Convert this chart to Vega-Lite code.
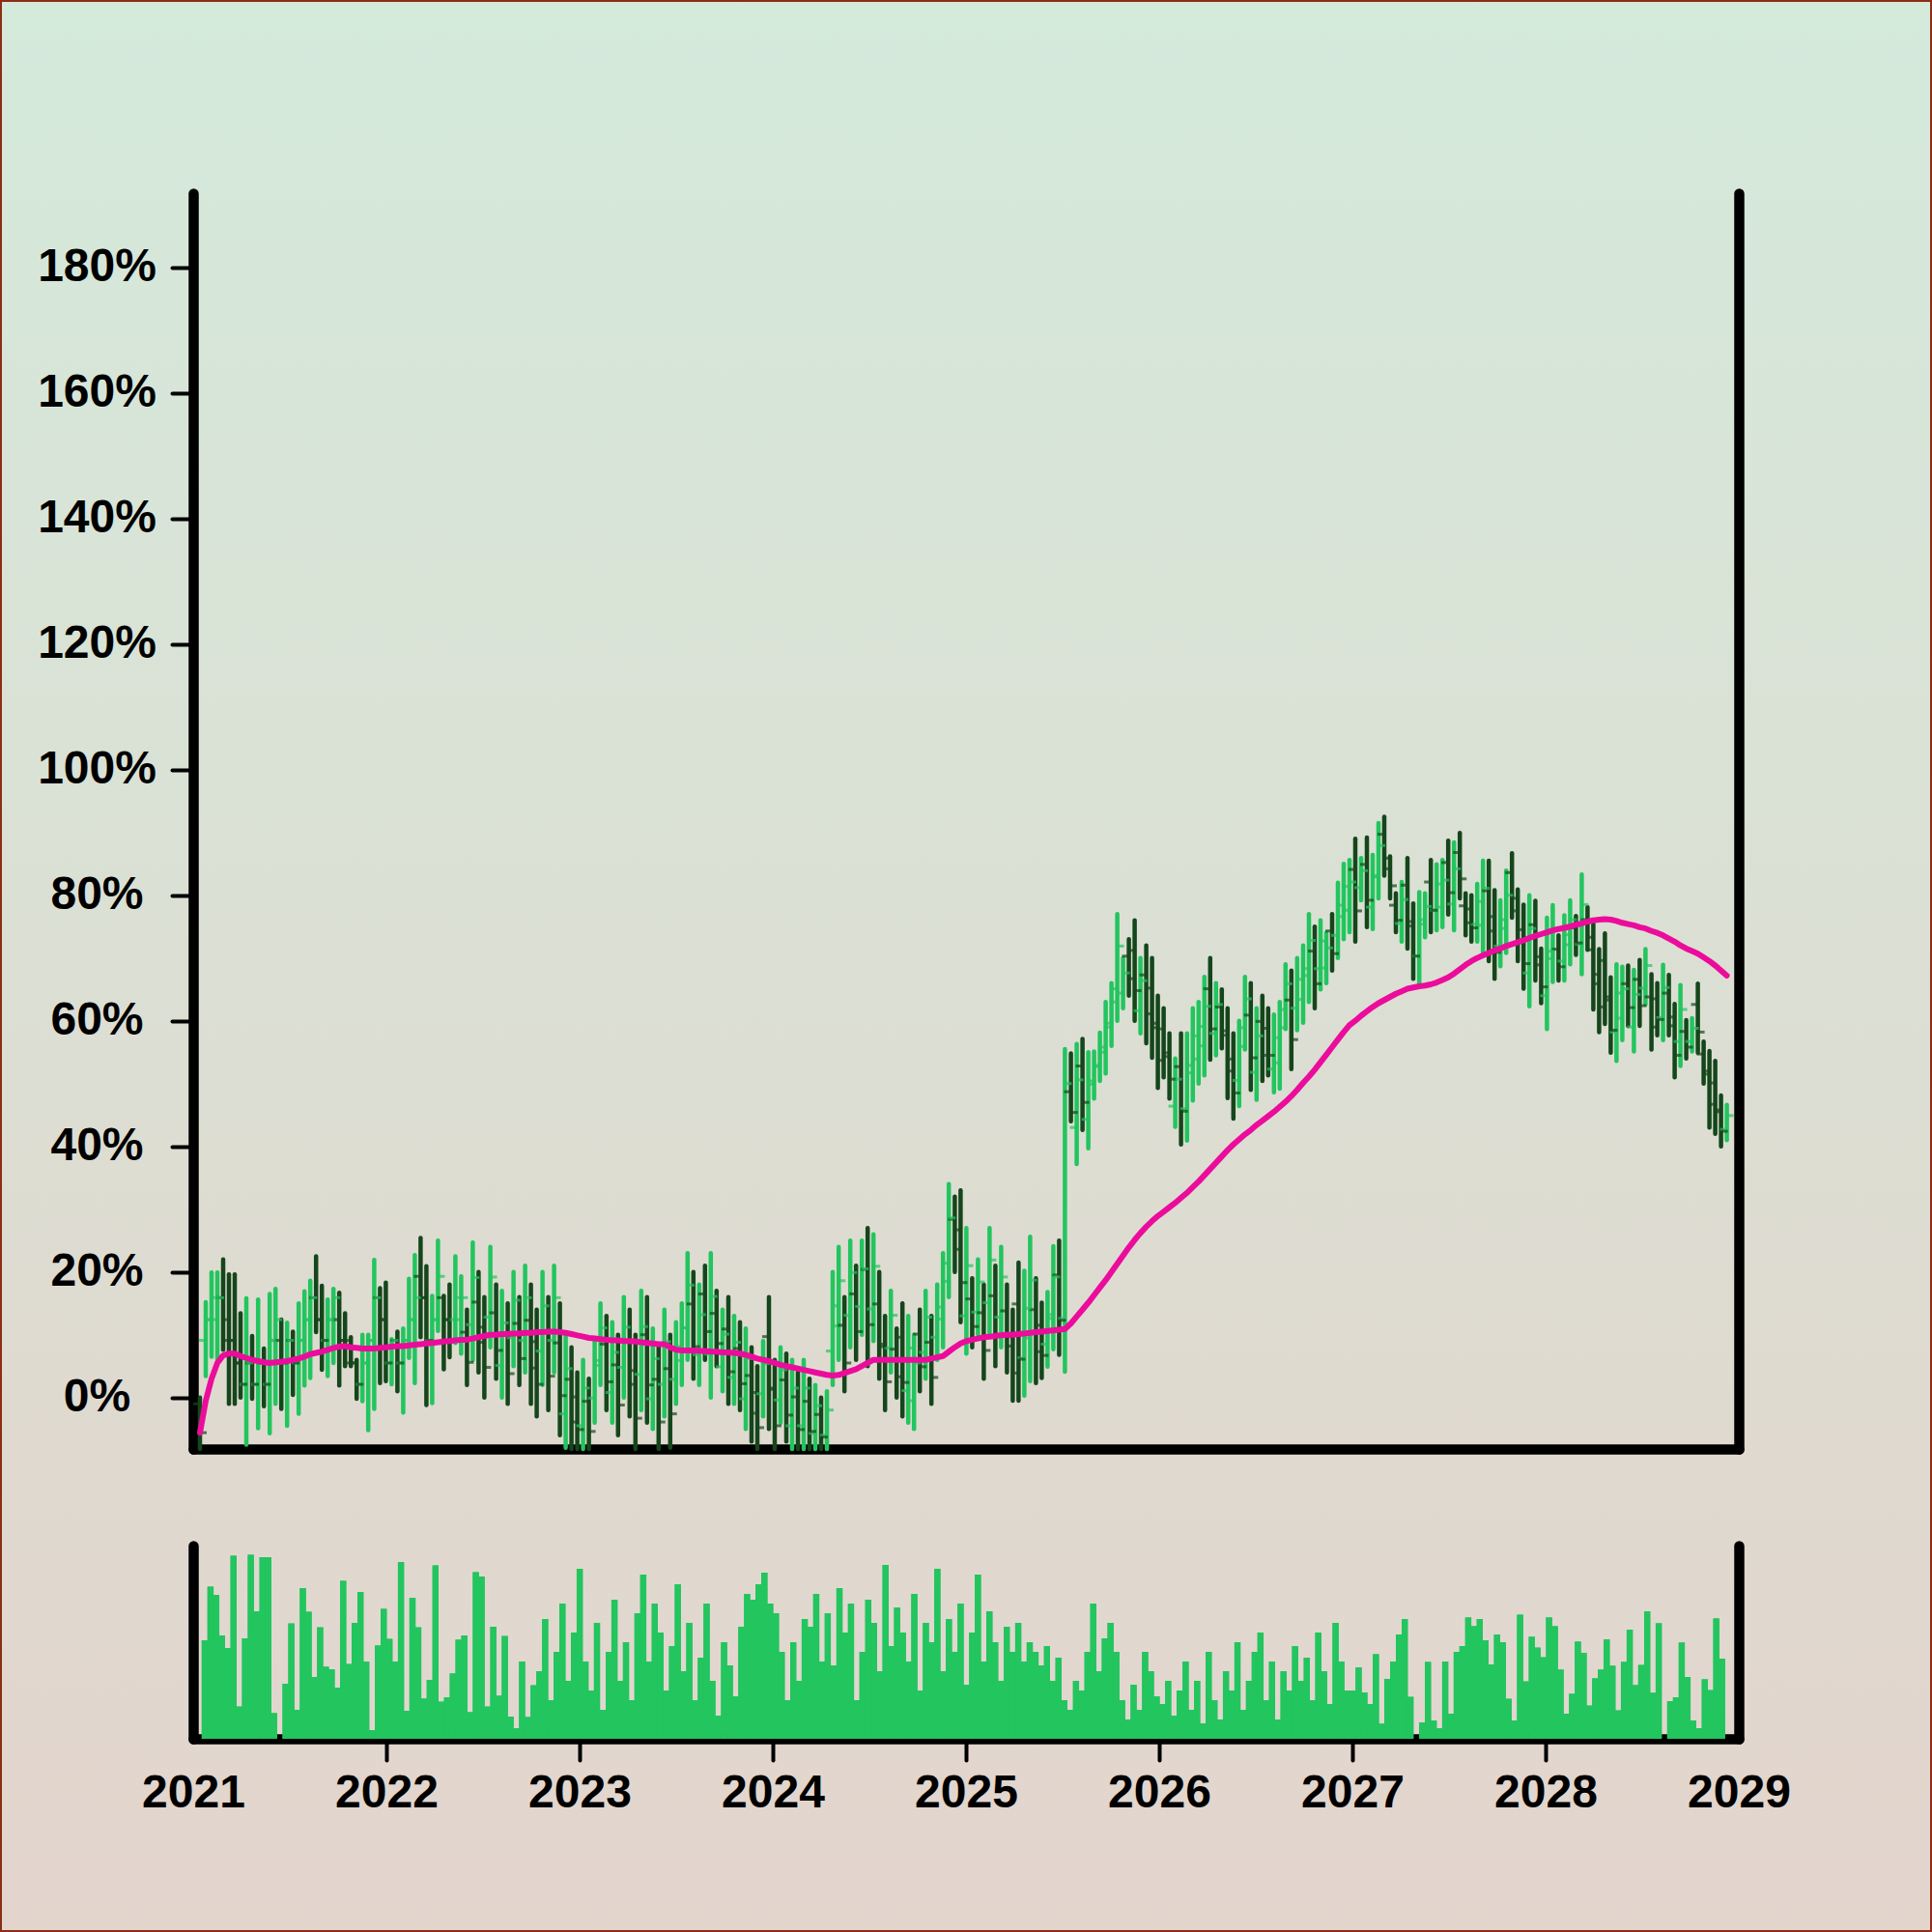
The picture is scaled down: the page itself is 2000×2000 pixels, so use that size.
{
"$schema": "https://vega.github.io/schema/vega-lite/v6.json",
"width": 2000, "height": 2000, "padding": 0,
"autosize": {"type": "none"},
"background": "#dbdfd3",
"config": {
 "view": {"fill": {"gradient": "linear", "x1": 0, "y1": 0, "x2": 0, "y2": 1, "stops": [{"offset": 0, "color": "#d4eadb"}, {"offset": 1, "color": "#e3d4cc"}]}, "stroke": "#8b2e16", "strokeWidth": 4},
 "axis": {"domainColor": "black", "domainWidth": 10.5, "domainCap": "round", "tickColor": "black", "tickWidth": 4, "tickSize": 22, "tickCap": "round", "labelFont": "Liberation Sans", "labelFontWeight": "bold", "labelFontSize": 48, "labelColor": "black", "grid": false, "title": null, "zindex": 1}
},
"data": {"values": [
{"t":2021.035,"o":-1,"h":0,"l":-9,"c":-5.6,"v":51,"m":-5.6},
{"t":2021.065,"o":9.1,"h":15.2,"l":3.4,"c":12.4,"v":78.7,"m":-0.5},
{"t":2021.095,"o":12.4,"h":19.9,"l":6.5,"c":15.9,"v":74.5,"m":3.0},
{"t":2021.125,"o":12.4,"h":19.9,"l":6.0,"c":15.9,"v":53.5,"m":5.5},
{"t":2021.155,"o":15.9,"h":22.0,"l":7.6,"c":9.1,"v":47,"m":6.7},
{"t":2021.185,"o":12.4,"h":19.6,"l":-1.0,"c":9.1,"v":94.7,"m":7.0},
{"t":2021.215,"o":9.1,"h":19.6,"l":-1.0,"c":5.5,"v":16.7,"m":7.0},
{"t":2021.245,"o":5.5,"h":13.4,"l":0.0,"c":2.1,"v":52,"m":6.6},
{"t":2021.275,"o":2.1,"h":15.8,"l":-7.5,"c":5.5,"v":95.3,"m":6.3},
{"t":2021.305,"o":5.5,"h":9.8,"l":-0.2,"c":2.1,"v":66,"m":6.0},
{"t":2021.336,"o":2.1,"h":15.6,"l":-4.9,"c":5.5,"v":94,"m":5.8},
{"t":2021.366,"o":5.5,"h":7.8,"l":-1.4,"c":2.1,"v":94,"m":5.6},
{"t":2021.396,"o":2.1,"h":16.5,"l":-5.7,"c":9.1,"v":13.3,"m":5.5},
{"t":2021.426,"o":9.1,"h":17.3,"l":-1.0,"c":12.4,"v":0,"m":5.6},
{"t":2021.456,"o":9.1,"h":12.4,"l":-1.8,"c":5.5,"v":28.5,"m":5.7},
{"t":2021.486,"o":5.5,"h":11.9,"l":-4.5,"c":9.1,"v":59.7,"m":5.8},
{"t":2021.516,"o":9.1,"h":10.5,"l":0.4,"c":5.5,"v":15,"m":6.0},
{"t":2021.546,"o":5.5,"h":15.0,"l":-2.6,"c":9.1,"v":78,"m":6.2},
{"t":2021.576,"o":9.1,"h":16.9,"l":1.9,"c":12.4,"v":65.7,"m":6.5},
{"t":2021.606,"o":12.4,"h":18.6,"l":3.1,"c":15.9,"v":32,"m":6.9},
{"t":2021.636,"o":15.9,"h":22.5,"l":10.4,"c":12.4,"v":57.7,"m":7.1},
{"t":2021.666,"o":12.4,"h":17.8,"l":4.4,"c":9.1,"v":37.3,"m":7.3},
{"t":2021.696,"o":9.1,"h":15.6,"l":3.4,"c":12.4,"v":36,"m":7.6},
{"t":2021.726,"o":12.4,"h":17.3,"l":5.5,"c":15.9,"v":26.5,"m":7.9},
{"t":2021.756,"o":12.4,"h":16.7,"l":1.9,"c":9.1,"v":81.7,"m":8.1},
{"t":2021.786,"o":9.1,"h":13.4,"l":5.0,"c":5.5,"v":38.7,"m":8.2},
{"t":2021.816,"o":9.1,"h":9.6,"l":5.0,"c":5.5,"v":60,"m":8.0},
{"t":2021.846,"o":5.5,"h":6.0,"l":-0.2,"c":2.1,"v":76,"m":7.9},
{"t":2021.876,"o":2.1,"h":10.0,"l":-0.6,"c":5.5,"v":40,"m":7.8},
{"t":2021.906,"o":5.5,"h":10.0,"l":-5.2,"c":9.1,"v":4.5,"m":7.8},
{"t":2021.937,"o":9.1,"h":21.9,"l":-1.8,"c":15.9,"v":48.3,"m":7.8},
{"t":2021.967,"o":15.9,"h":17.4,"l":2.3,"c":12.4,"v":67.3,"m":7.9},
{"t":2021.997,"o":12.4,"h":18.3,"l":2.6,"c":5.5,"v":51.7,"m":8.0},
{"t":2022.027,"o":5.5,"h":9.3,"l":2.1,"c":9.1,"v":40,"m":8.1},
{"t":2022.057,"o":9.1,"h":10.5,"l":1.0,"c":5.5,"v":91.5,"m":8.2},
{"t":2022.087,"o":5.5,"h":11.0,"l":-2.4,"c":9.1,"v":14.5,"m":8.2},
{"t":2022.117,"o":9.1,"h":18.9,"l":6.3,"c":12.4,"v":73,"m":8.3},
{"t":2022.147,"o":12.4,"h":22.7,"l":2.3,"c":15.9,"v":57.7,"m":8.4},
{"t":2022.177,"o":19.3,"h":25.4,"l":9.6,"c":15.9,"v":20.8,"m":8.5},
{"t":2022.207,"o":15.9,"h":20.9,"l":-1.2,"c":9.1,"v":30.5,"m":8.6},
{"t":2022.237,"o":9.1,"h":16.2,"l":-0.9,"c":12.4,"v":89.8,"m":8.7},
{"t":2022.267,"o":12.4,"h":25.0,"l":10.6,"c":19.3,"v":19.2,"m":8.8},
{"t":2022.297,"o":15.9,"h":16.2,"l":4.5,"c":12.4,"v":21.5,"m":8.9},
{"t":2022.327,"o":12.4,"h":18.0,"l":6.4,"c":9.1,"v":33.8,"m":9.0},
{"t":2022.357,"o":12.4,"h":22.5,"l":8.7,"c":15.9,"v":51.3,"m":9.1},
{"t":2022.387,"o":12.4,"h":19.3,"l":7.0,"c":15.9,"v":53.5,"m":9.2},
{"t":2022.417,"o":10.4,"h":14,"l":2,"c":5.6,"v":13.8,"m":9.2},
{"t":2022.447,"o":11.6,"h":24.7,"l":6,"c":19.1,"v":86.3,"m":9.4},
{"t":2022.477,"o":15.2,"h":20,"l":4,"c":8.8,"v":84,"m":9.6},
{"t":2022.507,"o":11.2,"h":16,"l":0,"c":4.8,"v":16.7,"m":9.8},
{"t":2022.538,"o":12.8,"h":24,"l":8,"c":19.2,"v":58,"m":10.0},
{"t":2022.568,"o":13.5,"h":18,"l":3,"c":7.5,"v":22.3,"m":10.0},
{"t":2022.598,"o":5.1,"h":17,"l":0,"c":11.9,"v":53.2,"m":10.1},
{"t":2022.628,"o":10.2,"h":15,"l":-1,"c":3.8,"v":11.5,"m":10.1},
{"t":2022.658,"o":9.5,"h":20,"l":5,"c":15.5,"v":5.5,"m":10.2},
{"t":2022.688,"o":11.8,"h":16,"l":2,"c":6.2,"v":40,"m":10.2},
{"t":2022.718,"o":9.1,"h":21,"l":4,"c":15.9,"v":11.3,"m":10.3},
{"t":2022.748,"o":12.3,"h":18,"l":-1,"c":4.7,"v":27.7,"m":10.3},
{"t":2022.778,"o":8.9,"h":14,"l":-3,"c":2.1,"v":35,"m":10.4},
{"t":2022.808,"o":7.4,"h":20,"l":2,"c":14.6,"v":62,"m":10.4},
{"t":2022.838,"o":10.6,"h":16,"l":-2,"c":3.4,"v":20,"m":10.5},
{"t":2022.868,"o":9.1,"h":21,"l":4,"c":15.9,"v":45,"m":10.5},
{"t":2022.898,"o":8.7,"h":15,"l":-6,"c":0.3,"v":70,"m":10.4},
{"t":2022.928,"o":-2.6,"h":10,"l":-8,"c":4.6,"v":30,"m":10.3},
{"t":2022.958,"o":2.9,"h":8,"l":-9,"c":-3.9,"v":55,"m":10.1},
{"t":2022.988,"o":0.1,"h":4,"l":-9,"c":-5.1,"v":88,"m":9.9},
{"t":2023.018,"o":-4.5,"h":6,"l":-9,"c":1.5,"v":40,"m":9.7},
{"t":2023.048,"o":-0.6,"h":3,"l":-9,"c":-5.4,"v":25,"m":9.5},
{"t":2023.078,"o":-0.1,"h":9,"l":-4,"c":5.1,"v":60,"m":9.4},
{"t":2023.108,"o":5.9,"h":15,"l":2,"c":11.1,"v":15,"m":9.3},
{"t":2023.139,"o":8.5,"h":13,"l":-2,"c":2.5,"v":45,"m":9.2},
{"t":2023.169,"o":0.8,"h":12,"l":-4,"c":7.2,"v":72,"m":9.1},
{"t":2023.199,"o":5.2,"h":10,"l":-6,"c":-1.2,"v":30,"m":9.1},
{"t":2023.229,"o":4.8,"h":16,"l":0,"c":11.2,"v":50,"m":9.0},
{"t":2023.259,"o":8.9,"h":14,"l":-3,"c":2.1,"v":20,"m":9.0},
{"t":2023.289,"o":4.3,"h":10,"l":-9,"c":-3.3,"v":65,"m":8.9},
{"t":2023.319,"o":3.7,"h":17,"l":-2,"c":11.3,"v":85,"m":8.8},
{"t":2023.349,"o":10,"h":16,"l":-4,"c":2,"v":40,"m":8.7},
{"t":2023.379,"o":-0.2,"h":11,"l":-5,"c":6.2,"v":70,"m":8.6},
{"t":2023.409,"o":2.9,"h":8,"l":-9,"c":-3.9,"v":55,"m":8.5},
{"t":2023.439,"o":2.1,"h":14,"l":-3,"c":8.9,"v":25,"m":8.5},
{"t":2023.469,"o":4.6,"h":10,"l":-8,"c":-2.6,"v":48,"m":8.0},
{"t":2023.499,"o":2.9,"h":12,"l":-1,"c":8.1,"v":80,"m":7.6},
{"t":2023.529,"o":5.9,"h":15,"l":2,"c":11.1,"v":35,"m":7.5},
{"t":2023.559,"o":11.1,"h":23,"l":6,"c":17.9,"v":60,"m":7.5},
{"t":2023.589,"o":14.9,"h":20,"l":3,"c":8.1,"v":20,"m":7.5},
{"t":2023.619,"o":6.8,"h":18,"l":2,"c":13.2,"v":42,"m":7.4},
{"t":2023.649,"o":16.5,"h":21,"l":6,"c":10.5,"v":70,"m":7.4},
{"t":2023.679,"o":6.9,"h":23,"l":0,"c":16.1,"v":30,"m":7.3},
{"t":2023.709,"o":13.4,"h":17,"l":5,"c":8.6,"v":12,"m":7.3},
{"t":2023.740,"o":4.9,"h":14,"l":1,"c":10.1,"v":50,"m":7.2},
{"t":2023.770,"o":10.9,"h":16,"l":-1,"c":4.1,"v":38,"m":7.2},
{"t":2023.800,"o":3.2,"h":13,"l":-1,"c":8.8,"v":22,"m":7.1},
{"t":2023.830,"o":7.8,"h":12,"l":-2,"c":2.2,"v":58,"m":7.0},
{"t":2023.860,"o":-0.2,"h":11,"l":-5,"c":6.2,"v":75,"m":6.8},
{"t":2023.890,"o":3.5,"h":8,"l":-7,"c":-2.5,"v":72,"m":6.5},
{"t":2023.920,"o":0.8,"h":5,"l":-9,"c":-4.8,"v":80,"m":6.2},
{"t":2023.950,"o":0.6,"h":9,"l":-3,"c":5.4,"v":86,"m":6.0},
{"t":2023.980,"o":9.7,"h":16,"l":-5,"c":1.3,"v":70,"m":5.8},
{"t":2024.010,"o":1.5,"h":6,"l":-9,"c":-4.5,"v":65,"m":5.5},
{"t":2024.040,"o":-0.4,"h":8,"l":-4,"c":4.4,"v":45,"m":5.2},
{"t":2024.070,"o":2.8,"h":7,"l":-7,"c":-2.8,"v":20,"m":5.0},
{"t":2024.100,"o":-4.5,"h":6,"l":-9,"c":1.5,"v":50,"m":4.8},
{"t":2024.130,"o":0.1,"h":4,"l":-9,"c":-5.1,"v":30,"m":4.6},
{"t":2024.160,"o":-4.5,"h":6,"l":-9,"c":1.5,"v":62,"m":4.4},
{"t":2024.190,"o":-0.6,"h":3,"l":-9,"c":-5.4,"v":58,"m":4.2},
{"t":2024.220,"o":-5.7,"h":2,"l":-9,"c":-1.3,"v":75,"m":4.0},
{"t":2024.250,"o":-2.7,"h":0,"l":-9,"c":-6.3,"v":40,"m":3.8},
{"t":2024.280,"o":-6,"h":1,"l":-9,"c":-2,"v":65,"m":3.6},
{"t":2024.310,"o":7.4,"h":20,"l":2,"c":14.6,"v":38,"m":3.5},
{"t":2024.341,"o":11.4,"h":24,"l":6,"c":18.6,"v":78,"m":3.6},
{"t":2024.371,"o":11.5,"h":16,"l":1,"c":5.5,"v":55,"m":3.9},
{"t":2024.401,"o":13.1,"h":25,"l":8,"c":19.9,"v":70,"m":4.2},
{"t":2024.431,"o":16.5,"h":21,"l":6,"c":10.5,"v":20,"m":4.5},
{"t":2024.461,"o":14.5,"h":25,"l":10,"c":20.5,"v":45,"m":5.0},
{"t":2024.491,"o":20.4,"h":27,"l":5,"c":11.6,"v":72,"m":5.5},
{"t":2024.521,"o":14.1,"h":26,"l":9,"c":20.9,"v":60,"m":6.0},
{"t":2024.551,"o":14.9,"h":20,"l":3,"c":8.1,"v":35,"m":6.0},
{"t":2024.581,"o":8.5,"h":13,"l":-2,"c":2.5,"v":90,"m":6.0},
{"t":2024.611,"o":7.9,"h":17,"l":4,"c":13.1,"v":48,"m":6.0},
{"t":2024.641,"o":7.7,"h":11,"l":0,"c":3.3,"v":68,"m":6.0},
{"t":2024.671,"o":9.6,"h":15,"l":-3,"c":2.4,"v":55,"m":6.0},
{"t":2024.701,"o":1.1,"h":13,"l":-4,"c":7.9,"v":40,"m":6.0},
{"t":2024.731,"o":-0.5,"h":10,"l":-5,"c":5.5,"v":75,"m":6.0},
{"t":2024.761,"o":10.1,"h":14,"l":1,"c":4.9,"v":25,"m":6.0},
{"t":2024.791,"o":7.2,"h":17,"l":3,"c":12.8,"v":60,"m":6.0},
{"t":2024.821,"o":8.8,"h":13,"l":-1,"c":3.2,"v":50,"m":6.2},
{"t":2024.851,"o":9.6,"h":18,"l":6,"c":14.4,"v":88,"m":6.4},
{"t":2024.881,"o":12.5,"h":23,"l":8,"c":18.5,"v":35,"m":6.6},
{"t":2024.911,"o":21.4,"h":34,"l":16,"c":28.6,"v":62,"m":7.3},
{"t":2024.942,"o":28.4,"h":32,"l":20,"c":23.6,"v":45,"m":8.0},
{"t":2024.972,"o":26.7,"h":33,"l":12,"c":18.3,"v":70,"m":8.6},
{"t":2025.002,"o":13,"h":27,"l":7,"c":21,"v":28,"m":9.0},
{"t":2025.032,"o":15.7,"h":19,"l":8,"c":11.3,"v":55,"m":9.2},
{"t":2025.062,"o":13.6,"h":22,"l":10,"c":18.4,"v":85,"m":9.4},
{"t":2025.092,"o":13.5,"h":18,"l":3,"c":7.5,"v":40,"m":9.6},
{"t":2025.122,"o":15.1,"h":27,"l":10,"c":21.9,"v":66,"m":9.7},
{"t":2025.152,"o":16.2,"h":21,"l":5,"c":9.8,"v":50,"m":9.8},
{"t":2025.182,"o":12.8,"h":24,"l":8,"c":19.2,"v":30,"m":9.9},
{"t":2025.212,"o":13.8,"h":18,"l":4,"c":8.2,"v":58,"m":10.0},
{"t":2025.242,"o":9.7,"h":14,"l":-0.5,"c":3.9,"v":45,"m":10.0},
{"t":2025.272,"o":14.9,"h":21.5,"l":-0.5,"c":6.1,"v":60,"m":10.1},
{"t":2025.302,"o":6.3,"h":20.2,"l":0.3,"c":14.2,"v":40,"m":10.2},
{"t":2025.332,"o":9.5,"h":25.6,"l":2.6,"c":18.7,"v":50,"m":10.3},
{"t":2025.362,"o":14,"h":19,"l":2.3,"c":7.3,"v":45,"m":10.4},
{"t":2025.392,"o":11.5,"h":15.1,"l":3.1,"c":6.7,"v":38,"m":10.5},
{"t":2025.422,"o":8.5,"h":16.8,"l":4.9,"c":13.2,"v":48,"m":10.6},
{"t":2025.452,"o":12.6,"h":24.1,"l":7.7,"c":19.2,"v":30,"m":10.7},
{"t":2025.482,"o":19.5,"h":25,"l":6.8,"c":12.3,"v":42,"m":10.8},
{"t":2025.512,"o":12.6,"h":55.5,"l":4.1,"c":50,"v":20,"m":10.9},
{"t":2025.543,"o":48.7,"h":54.8,"l":44,"c":45.4,"v":15,"m":11.8},
{"t":2025.573,"o":43,"h":56.3,"l":37.2,"c":50.6,"v":30,"m":12.9},
{"t":2025.603,"o":52.8,"h":57.1,"l":42.6,"c":47,"v":25,"m":14.0},
{"t":2025.633,"o":44.3,"h":55,"l":39.7,"c":50.4,"v":45,"m":15.1},
{"t":2025.663,"o":49.9,"h":55.1,"l":47.6,"c":52.9,"v":70,"m":16.3},
{"t":2025.693,"o":52.7,"h":58.1,"l":50.4,"c":55.8,"v":35,"m":17.5},
{"t":2025.723,"o":55,"h":63,"l":51.6,"c":59.6,"v":52,"m":18.7},
{"t":2025.753,"o":59,"h":66,"l":56,"c":63,"v":60,"m":20.0},
{"t":2025.783,"o":65.1,"h":77,"l":60,"c":71.9,"v":45,"m":21.3},
{"t":2025.813,"o":64.4,"h":70,"l":62,"c":67.6,"v":20,"m":22.6},
{"t":2025.843,"o":70.3,"h":73,"l":64,"c":66.7,"v":10,"m":23.9},
{"t":2025.873,"o":71.2,"h":76,"l":60,"c":64.8,"v":28,"m":25.1},
{"t":2025.903,"o":61.6,"h":70,"l":58,"c":66.4,"v":15,"m":26.2},
{"t":2025.933,"o":67.3,"h":72,"l":56.4,"c":61.1,"v":45,"m":27.2},
{"t":2025.963,"o":65.2,"h":70,"l":54.1,"c":58.9,"v":35,"m":28.1},
{"t":2025.993,"o":59.6,"h":64,"l":49.3,"c":53.7,"v":22,"m":28.9},
{"t":2026.023,"o":58.7,"h":62,"l":51,"c":54.3,"v":18,"m":29.6},
{"t":2026.053,"o":54.9,"h":58,"l":47.6,"c":50.7,"v":30,"m":30.3},
{"t":2026.083,"o":46.4,"h":54,"l":43.1,"c":50.7,"v":12,"m":31.0},
{"t":2026.113,"o":52.7,"h":58,"l":40.3,"c":45.6,"v":25,"m":31.8},
{"t":2026.144,"o":46,"h":58,"l":40.9,"c":52.9,"v":40,"m":32.6},
{"t":2026.174,"o":51.7,"h":62,"l":47.3,"c":57.6,"v":15,"m":33.5},
{"t":2026.204,"o":53.9,"h":63,"l":50,"c":59.1,"v":30,"m":34.4},
{"t":2026.234,"o":56,"h":67,"l":51.3,"c":62.3,"v":8,"m":35.4},
{"t":2026.264,"o":65.1,"h":70,"l":53.8,"c":58.7,"v":45,"m":36.4},
{"t":2026.294,"o":58,"h":66,"l":54.5,"c":62.6,"v":20,"m":37.4},
{"t":2026.324,"o":62.2,"h":65,"l":55.6,"c":58.4,"v":10,"m":38.4},
{"t":2026.354,"o":57.7,"h":62,"l":47.7,"c":52,"v":35,"m":39.4},
{"t":2026.384,"o":53.9,"h":58,"l":44.4,"c":48.5,"v":25,"m":40.3},
{"t":2026.414,"o":50.5,"h":60,"l":46.4,"c":55.9,"v":50,"m":41.1},
{"t":2026.444,"o":58.9,"h":67,"l":55.4,"c":63.5,"v":15,"m":41.9},
{"t":2026.474,"o":60.9,"h":66,"l":49,"c":54.1,"v":30,"m":42.6},
{"t":2026.504,"o":51.8,"h":62,"l":47.4,"c":57.6,"v":45,"m":43.4},
{"t":2026.534,"o":59.9,"h":64,"l":50.4,"c":54.5,"v":55,"m":44.1},
{"t":2026.564,"o":58.8,"h":62,"l":51.3,"c":54.5,"v":20,"m":44.8},
{"t":2026.594,"o":52.3,"h":61,"l":48.6,"c":57.3,"v":40,"m":45.5},
{"t":2026.624,"o":53.3,"h":63,"l":49.2,"c":58.9,"v":10,"m":46.3},
{"t":2026.654,"o":61.8,"h":69,"l":58.7,"c":65.9,"v":35,"m":47.1},
{"t":2026.684,"o":63.3,"h":68,"l":52.3,"c":57,"v":25,"m":48.0},
{"t":2026.714,"o":62,"h":70,"l":58.5,"c":66.6,"v":48,"m":49.0},
{"t":2026.745,"o":63.4,"h":72,"l":59.7,"c":68.3,"v":30,"m":50.1},
{"t":2026.775,"o":67.2,"h":77,"l":63,"c":72.8,"v":42,"m":51.1},
{"t":2026.805,"o":71.1,"h":75,"l":62,"c":65.9,"v":20,"m":52.2},
{"t":2026.835,"o":68.3,"h":76,"l":65,"c":72.7,"v":55,"m":53.4},
{"t":2026.865,"o":68.4,"h":74,"l":66,"c":71.6,"v":35,"m":54.6},
{"t":2026.895,"o":74.3,"h":77,"l":68,"c":70.7,"v":18,"m":55.8},
{"t":2026.925,"o":73.6,"h":82,"l":70,"c":78.4,"v":60,"m":57.0},
{"t":2026.955,"o":76.6,"h":85,"l":73,"c":81.4,"v":40,"m":58.2},
{"t":2026.985,"o":77.6,"h":85.6,"l":74.1,"c":82.1,"v":25,"m":59.3},
{"t":2027.015,"o":84.1,"h":89,"l":72.6,"c":77.5,"v":25,"m":60.0},
{"t":2027.045,"o":81.2,"h":85.9,"l":79.2,"c":83.9,"v":37,"m":60.8},
{"t":2027.075,"o":84.9,"h":89.2,"l":74.9,"c":79.2,"v":24,"m":61.5},
{"t":2027.105,"o":78.1,"h":86.4,"l":74.6,"c":82.9,"v":18,"m":62.2},
{"t":2027.135,"o":83.1,"h":91.5,"l":79.5,"c":87.9,"v":43.8,"m":62.8},
{"t":2027.165,"o":89.7,"h":92.5,"l":83.1,"c":85.9,"v":7.8,"m":63.3},
{"t":2027.195,"o":84.2,"h":86.2,"l":79.5,"c":81.5,"v":31,"m":63.8},
{"t":2027.225,"o":78.4,"h":80.3,"l":74.1,"c":76,"v":40,"m":64.3},
{"t":2027.255,"o":75.5,"h":82.1,"l":72.6,"c":79.3,"v":54,"m":64.7},
{"t":2027.285,"o":81.6,"h":85.9,"l":71.5,"c":75.8,"v":62,"m":65.1},
{"t":2027.315,"o":75.1,"h":78.7,"l":66.7,"c":70.3,"v":21.7,"m":65.3},
{"t":2027.346,"o":70.3,"h":80.5,"l":65.9,"c":76.1,"v":0,"m":65.5},
{"t":2027.376,"o":75.4,"h":80.3,"l":73.3,"c":78.2,"v":8.5,"m":65.6},
{"t":2027.406,"o":82.1,"h":85.6,"l":74.1,"c":77.6,"v":39.8,"m":65.8},
{"t":2027.436,"o":77.6,"h":84.9,"l":74.4,"c":81.8,"v":9.5,"m":66.1},
{"t":2027.466,"o":78.1,"h":85.6,"l":74.9,"c":82.4,"v":5.5,"m":66.5},
{"t":2027.496,"o":85.2,"h":88.7,"l":76.9,"c":80.4,"v":40,"m":66.9},
{"t":2027.526,"o":78.6,"h":88.4,"l":74.4,"c":84.2,"v":13,"m":67.5},
{"t":2027.556,"o":86.8,"h":89.9,"l":79.5,"c":82.6,"v":45,"m":68.2},
{"t":2027.586,"o":78.3,"h":80.3,"l":73.6,"c":75.6,"v":48,"m":68.9},
{"t":2027.616,"o":77.8,"h":80,"l":72.6,"c":74.8,"v":62.8,"m":69.5},
{"t":2027.646,"o":75.4,"h":81.8,"l":72.6,"c":79,"v":58.3,"m":70.0},
{"t":2027.676,"o":75.2,"h":85.5,"l":70.8,"c":81.1,"v":62,"m":70.4},
{"t":2027.706,"o":80.7,"h":85.5,"l":69.5,"c":74.3,"v":51,"m":70.8},
{"t":2027.736,"o":76.6,"h":80.8,"l":66.7,"c":70.9,"v":38.5,"m":71.2},
{"t":2027.766,"o":71.9,"h":79.2,"l":68.7,"c":76.1,"v":54,"m":71.5},
{"t":2027.796,"o":74.7,"h":83.9,"l":70.8,"c":80,"v":50,"m":71.9},
{"t":2027.826,"o":83.6,"h":86.7,"l":76.4,"c":79.5,"v":20.7,"m":72.2},
{"t":2027.856,"o":77.5,"h":80.9,"l":69.5,"c":72.9,"v":9.5,"m":72.5},
{"t":2027.886,"o":74.5,"h":78.5,"l":65.1,"c":69.1,"v":64.2,"m":72.8},
{"t":2027.916,"o":67.6,"h":80,"l":62.3,"c":74.7,"v":29.7,"m":73.2},
{"t":2027.947,"o":75.3,"h":79.1,"l":66.4,"c":70.2,"v":52.8,"m":73.5},
{"t":2027.977,"o":68.9,"h":71.5,"l":62.8,"c":65.4,"v":47.2,"m":73.8},
{"t":2028.007,"o":64,"h":76.4,"l":58.7,"c":71.1,"v":42.2,"m":74.1},
{"t":2028.037,"o":69.9,"h":78.4,"l":66.2,"c":74.7,"v":62.8,"m":74.4},
{"t":2028.067,"o":71.4,"h":73.6,"l":66.4,"c":68.6,"v":58.3,"m":74.6},
{"t":2028.097,"o":69.5,"h":76.8,"l":66.4,"c":73.7,"v":35.8,"m":74.8},
{"t":2028.127,"o":72.1,"h":79.2,"l":69,"c":76.1,"v":13,"m":75.0},
{"t":2028.157,"o":74.8,"h":76.7,"l":70.5,"c":72.4,"v":23.3,"m":75.3},
{"t":2028.187,"o":72.2,"h":83.3,"l":67.4,"c":78.5,"v":50.3,"m":75.5},
{"t":2028.217,"o":76.1,"h":78.1,"l":71.3,"c":73.3,"v":44.5,"m":75.8},
{"t":2028.247,"o":71.3,"h":75.4,"l":61.8,"c":65.9,"v":17.2,"m":76.0},
{"t":2028.277,"o":67.4,"h":71.4,"l":58.2,"c":62.2,"v":31.3,"m":76.1},
{"t":2028.307,"o":69.6,"h":73.9,"l":59.5,"c":63.8,"v":35.8,"m":76.2},
{"t":2028.337,"o":63.3,"h":66.9,"l":54.9,"c":58.5,"v":51.5,"m":76.1},
{"t":2028.367,"o":58.2,"h":69,"l":53.6,"c":64.4,"v":37.8,"m":75.9},
{"t":2028.397,"o":60.4,"h":68.6,"l":56.9,"c":65.1,"v":14.7,"m":75.6},
{"t":2028.427,"o":65.9,"h":68.8,"l":59.2,"c":62.1,"v":39.8,"m":75.4},
{"t":2028.457,"o":59,"h":68.1,"l":55.1,"c":64.2,"v":56.5,"m":75.2},
{"t":2028.487,"o":66.6,"h":69.7,"l":59.2,"c":62.4,"v":27.8,"m":74.9},
{"t":2028.517,"o":65.2,"h":71.4,"l":62.6,"c":68.8,"v":38.2,"m":74.7},
{"t":2028.548,"o":63.8,"h":67.4,"l":55.4,"c":59,"v":66,"m":74.3},
{"t":2028.578,"o":63.5,"h":66,"l":57.7,"c":60.2,"v":23.8,"m":74.0},
{"t":2028.608,"o":60.5,"h":68.9,"l":56.9,"c":65.3,"v":59.8,"m":73.6},
{"t":2028.638,"o":64.4,"h":67.3,"l":57.7,"c":60.6,"v":0,"m":73.1},
{"t":2028.668,"o":59.2,"h":62.7,"l":51,"c":54.5,"v":19.5,"m":72.6},
{"t":2028.698,"o":56.7,"h":65.7,"l":52.8,"c":61.8,"v":21.5,"m":72.0},
{"t":2028.728,"o":58.3,"h":60.1,"l":54,"c":55.8,"v":49.8,"m":71.5},
{"t":2028.758,"o":56.7,"h":60.4,"l":55.1,"c":58.8,"v":32,"m":71.1},
{"t":2028.788,"o":62.6,"h":65.9,"l":54.9,"c":58.2,"v":9.5,"m":70.7},
{"t":2028.818,"o":54.7,"h":56.7,"l":50,"c":52,"v":5.5,"m":70.1},
{"t":2028.848,"o":51.5,"h":55.2,"l":43,"c":46.7,"v":30.8,"m":69.5},
{"t":2028.878,"o":50.1,"h":53.6,"l":42,"c":45.5,"v":25.2,"m":68.8},
{"t":2028.908,"o":45.8,"h":48.1,"l":40,"c":42.4,"v":62.3,"m":68.0},
{"t":2028.938,"o":42.7,"h":46.6,"l":41,"c":44.9,"v":41.5,"m":67.2}
]},
"resolve": {"scale": {"x": "independent", "y": "independent"}, "axis": {"x": "independent", "y": "independent"}},
"layer": [
 {"mark": {"type": "rule", "strokeWidth": 4.5, "strokeCap": "round"},
  "encoding": {
   "x": {"field": "t", "type": "quantitative", "scale": {"domain": [2021, 2029], "range": [200, 1800], "nice": false, "zero": false},
         "axis": {"orient": "bottom", "offset": -200, "values": [2021, 2022, 2023, 2024, 2025, 2026, 2027, 2028, 2029], "format": "d", "labelPadding": 10, "labelFlush": false, "labelOverlap": false,
                  "tickOpacity": {"condition": {"test": "datum.value == 2021 || datum.value == 2029", "value": 0}, "value": 1}}},
   "y": {"field": "l", "type": "quantitative", "scale": {"domain": [-8.2, 191.8], "range": [1500, 200], "nice": false, "zero": false, "clamp": true},
         "axis": {"orient": "left", "offset": -200, "values": [0, 20, 40, 60, 80, 100, 120, 140, 160, 180], "labelExpr": "datum.value + '%'", "labelAlign": "center", "labelPadding": 78}},
   "y2": {"field": "h"},
   "color": {"condition": {"test": "datum.c >= datum.o", "value": "#22c55e"}, "value": "#15461b"}
  }},
 {"mark": {"type": "tick", "orient": "horizontal", "size": 7, "thickness": 3, "xOffset": -3.5},
  "encoding": {
   "x": {"field": "t", "type": "quantitative", "scale": {"domain": [2021, 2029], "range": [200, 1800], "nice": false, "zero": false},
         "axis": {"orient": "bottom", "offset": -500, "ticks": false, "labels": false}},
   "y": {"field": "o", "type": "quantitative", "scale": {"domain": [-8.2, 191.8], "range": [1500, 200], "nice": false, "zero": false, "clamp": true},
         "axis": {"orient": "right", "offset": -200, "ticks": false, "labels": false}},
   "color": {"condition": {"test": "datum.c >= datum.o", "value": "#22c55e"}, "value": "#15461b"}
  }},
 {"mark": {"type": "tick", "orient": "horizontal", "size": 7, "thickness": 3, "xOffset": 3.5},
  "encoding": {
   "x": {"field": "t", "type": "quantitative", "scale": {"domain": [2021, 2029], "range": [200, 1800], "nice": false, "zero": false}, "axis": null},
   "y": {"field": "c", "type": "quantitative", "scale": {"domain": [-8.2, 191.8], "range": [1500, 200], "nice": false, "zero": false, "clamp": true}, "axis": null},
   "color": {"condition": {"test": "datum.c >= datum.o", "value": "#22c55e"}, "value": "#15461b"}
  }},
 {"mark": {"type": "line", "color": "#ec0c9c", "strokeWidth": 6, "strokeCap": "round", "strokeJoin": "round"},
  "encoding": {
   "x": {"field": "t", "type": "quantitative", "scale": {"domain": [2021, 2029], "range": [200, 1800], "nice": false, "zero": false}, "axis": null},
   "y": {"field": "m", "type": "quantitative", "scale": {"domain": [-8.2, 191.8], "range": [1500, 200], "nice": false, "zero": false, "clamp": true}, "axis": null}
  }},
 {"mark": {"type": "bar", "width": 6.3, "color": "#22c55e"},
  "encoding": {
   "x": {"field": "t", "type": "quantitative", "scale": {"domain": [2021, 2029], "range": [200, 1800], "nice": false, "zero": false}, "axis": null},
   "y": {"field": "v", "type": "quantitative", "scale": {"domain": [0, 100], "range": [1800, 1600], "nice": false},
         "axis": {"orient": "left", "offset": -200, "ticks": false, "labels": false}}
  }},
 {"mark": {"type": "bar", "width": 6.3, "color": "#22c55e"},
  "encoding": {
   "x": {"field": "t", "type": "quantitative", "scale": {"domain": [2021, 2029], "range": [200, 1800], "nice": false, "zero": false}, "axis": null},
   "y": {"field": "v", "type": "quantitative", "scale": {"domain": [0, 100], "range": [1800, 1600], "nice": false},
         "axis": {"orient": "right", "offset": -200, "ticks": false, "labels": false}}
  }}
]
}
